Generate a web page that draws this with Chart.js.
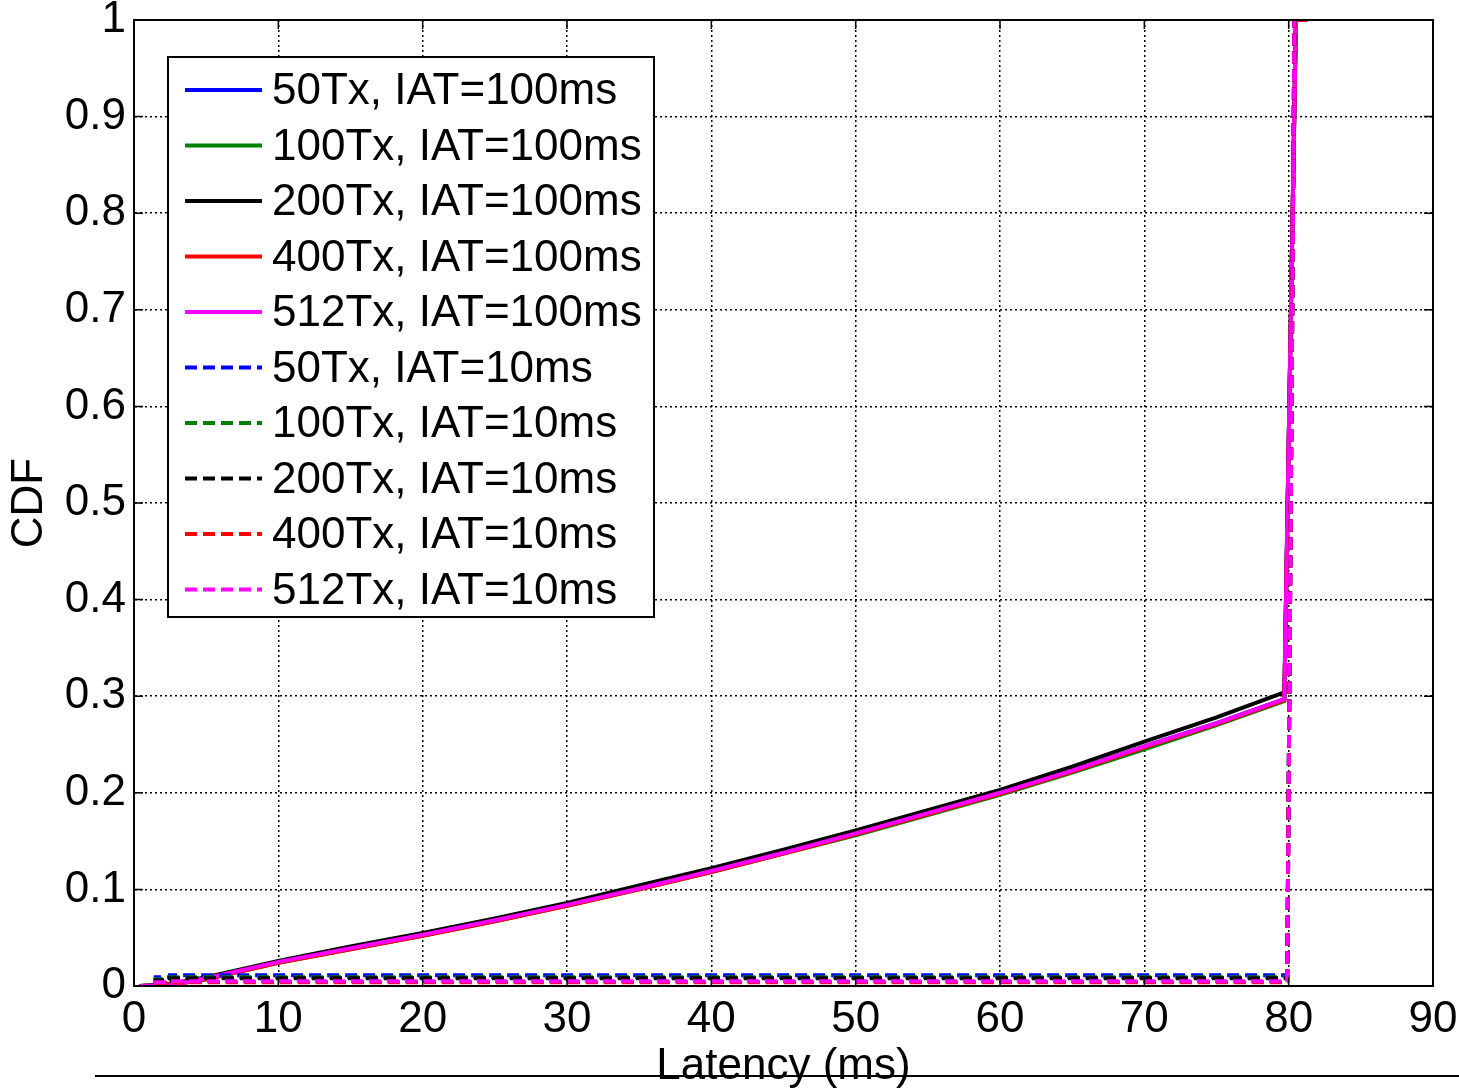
<!DOCTYPE html>
<html>
<head>
<meta charset="utf-8">
<script src="https://cdn.jsdelivr.net/npm/chart.js@4"></script>
<style>
  html, body { margin: 0; padding: 0; background: #fff; }
  #wrap { width: 1459px; height: 1089px; }
</style>
</head>
<body>
<div id="wrap"><canvas id="cdf" width="1459" height="1089"></canvas></div>
<script>
// latency (ms) sample points
const latSolid = [0.4, 2.5, 5, 10, 15, 20, 25, 30, 35, 40, 45, 50, 55, 60, 65, 70, 75, 79.7, 80.5];
const latSolidRed = [0.4, 2.5, 5, 10, 15, 20, 25, 30, 35, 40, 45, 50, 55, 60, 65, 70, 75, 79.7, 80.5, 81.3];
const latDashed = [0.4, 1.5, 1.5, 2.5, 2.5, 79.9, 80.4];

// IAT = 100ms
const cdf50_100  = [0, 0.001, 0.008, 0.025, 0.039, 0.053, 0.068, 0.084, 0.101, 0.119, 0.138, 0.158, 0.179, 0.200, 0.223, 0.248, 0.272, 0.297, 1];
const cdf100_100 = [0, 0.001, 0.007, 0.024, 0.038, 0.052, 0.067, 0.083, 0.100, 0.118, 0.137, 0.156, 0.177, 0.198, 0.221, 0.245, 0.270, 0.295, 1];
const cdf200_100 = [0, 0.002, 0.009, 0.026, 0.041, 0.055, 0.070, 0.086, 0.104, 0.122, 0.141, 0.161, 0.182, 0.203, 0.227, 0.253, 0.278, 0.304, 1];
const cdf400_100 = [0, 0.001, 0.007, 0.024, 0.038, 0.052, 0.067, 0.083, 0.100, 0.118, 0.137, 0.157, 0.178, 0.199, 0.222, 0.247, 0.271, 0.296, 1, 1];
const cdf512_100 = [0, 0.001, 0.008, 0.025, 0.039, 0.053, 0.068, 0.084, 0.101, 0.119, 0.138, 0.158, 0.179, 0.200, 0.223, 0.248, 0.272, 0.297, 1];

// IAT = 10ms
const cdf50_10  = [0, 0, 0.009, 0.009, 0.011, 0.011, 1];
const cdf100_10 = [0, 0, 0.007, 0.007, 0.009, 0.009, 1];
const cdf200_10 = [0, 0, 0.006, 0.006, 0.008, 0.008, 1];
const cdf400_10 = [0, 0, 0.003, 0.003, 0.004, 0.004, 1];
const cdf512_10 = [0, 0, 0.004, 0.004, 0.005, 0.005, 1];

const seriesNames = [
  '50Tx, IAT=100ms', '100Tx, IAT=100ms', '200Tx, IAT=100ms', '400Tx, IAT=100ms', '512Tx, IAT=100ms',
  '50Tx, IAT=10ms', '100Tx, IAT=10ms', '200Tx, IAT=10ms', '400Tx, IAT=10ms', '512Tx, IAT=10ms'
];
const seriesColors = ['#0000ff', '#008000', '#000000', '#ff0000', '#ff00ff'];

const xTicks = [0, 10, 20, 30, 40, 50, 60, 70, 80, 90];
const yTickLabels = ['0', '0.1', '0.2', '0.3', '0.4', '0.5', '0.6', '0.7', '0.8', '0.9', '1'];

const FONT = "'Liberation Sans', Arial, sans-serif";
const FSIZE = 44;

function pts(xs, ys) {
  return ys.map((y, i) => ({ x: xs[i], y: y }));
}

const solidData = [
  pts(latSolid, cdf50_100), pts(latSolid, cdf100_100), pts(latSolid, cdf200_100),
  pts(latSolidRed, cdf400_100), pts(latSolid, cdf512_100)
];
const dashedData = [cdf50_10, cdf100_10, cdf200_10, cdf400_10, cdf512_10].map(ys => pts(latDashed, ys));

const datasets = [];
solidData.concat(dashedData).forEach((d, i) => {
  datasets.push({
    label: seriesNames[i],
    data: d,
    borderColor: seriesColors[i % 5],
    backgroundColor: seriesColors[i % 5],
    borderWidth: 4,
    borderDash: i < 5 ? [] : [12, 6],
    pointRadius: 0,
    fill: false,
    tension: 0,
    order: 10 - i
  });
});

// frame on all four sides + inward tick marks, bottom rule
const framePlugin = {
  id: 'frame',
  afterDraw(chart) {
    const { ctx, chartArea: a, scales } = chart;
    ctx.save();
    ctx.strokeStyle = '#000';
    ctx.lineWidth = 2;
    ctx.setLineDash([]);
    ctx.strokeRect(a.left, a.top, a.right - a.left, a.bottom - a.top);
    ctx.lineWidth = 1.5;
    ctx.beginPath();
    xTicks.forEach(v => {
      const px = scales.x.getPixelForValue(v);
      ctx.moveTo(px, a.bottom); ctx.lineTo(px, a.bottom - 9);
      ctx.moveTo(px, a.top); ctx.lineTo(px, a.top + 9);
    });
    yTickLabels.forEach((t, i) => {
      const py = scales.y.getPixelForValue(i / 10);
      ctx.moveTo(a.left, py); ctx.lineTo(a.left + 9, py);
      ctx.moveTo(a.right, py); ctx.lineTo(a.right - 9, py);
    });
    ctx.stroke();
    // stray rule under the axis label
    ctx.lineWidth = 2;
    ctx.beginPath();
    ctx.moveTo(95, 1076);
    ctx.lineTo(1459, 1076);
    ctx.stroke();
    ctx.restore();
  }
};

// legend box inside the plot
const legendPlugin = {
  id: 'boxLegend',
  afterDatasetsDraw(chart) {
    const ctx = chart.ctx;
    const left = 168, top = 57, w = 486, h = 560;
    const rowH = 55.5, firstRow = 90;
    ctx.save();
    ctx.fillStyle = '#fff';
    ctx.fillRect(left, top, w, h);
    ctx.strokeStyle = '#000';
    ctx.lineWidth = 2;
    ctx.setLineDash([]);
    ctx.strokeRect(left, top, w, h);
    ctx.font = FSIZE + 'px ' + FONT;
    ctx.textBaseline = 'middle';
    ctx.textAlign = 'left';
    chart.data.datasets.forEach((ds, i) => {
      const y = firstRow + i * rowH;
      ctx.strokeStyle = ds.borderColor;
      ctx.lineWidth = 4;
      ctx.setLineDash(ds.borderDash);
      ctx.beginPath();
      ctx.moveTo(185, y);
      ctx.lineTo(262, y);
      ctx.stroke();
      ctx.fillStyle = '#000';
      ctx.fillText(ds.label, 272, y + 2);
    });
    ctx.restore();
  }
};

new Chart(document.getElementById('cdf'), {
  type: 'line',
  data: { datasets: datasets },
  plugins: [framePlugin, legendPlugin],
  options: {
    responsive: false,
    animation: false,
    devicePixelRatio: 1,
    layout: { padding: { top: 20, right: 26, left: 0, bottom: 0 } },
    plugins: {
      legend: { display: false },
      tooltip: { enabled: false }
    },
    scales: {
      x: {
        type: 'linear',
        min: 0,
        max: 90,
        afterFit: s => { s.height = 103; s.paddingLeft = 0; s.paddingRight = 0; },
        afterBuildTicks: s => { s.ticks = xTicks.map(v => ({ value: v })); },
        ticks: {
          color: '#000',
          padding: 7,
          maxRotation: 0,
          font: { family: FONT, size: FSIZE },
          callback: v => String(v)
        },
        grid: { color: '#000', lineWidth: 1.5, drawTicks: false },
        border: { display: true, color: '#000', width: 2, dash: [2, 3] },
        title: {
          display: true,
          text: 'Latency (ms)',
          color: '#000',
          font: { family: FONT, size: FSIZE, lineHeight: 1 },
          padding: { top: 0, bottom: 0 }
        }
      },
      y: {
        type: 'linear',
        min: 0,
        max: 1,
        afterFit: s => { s.width = 134; s.paddingTop = 0; s.paddingBottom = 0; },
        afterBuildTicks: s => { s.ticks = yTickLabels.map((t, i) => ({ value: i / 10 })); },
        ticks: {
          color: '#000',
          padding: 8,
          font: { family: FONT, size: FSIZE },
          callback: (v, i) => yTickLabels[i]
        },
        grid: { color: '#000', lineWidth: 1.5, drawTicks: false },
        border: { display: true, color: '#000', width: 2, dash: [2, 3] },
        title: {
          display: true,
          text: 'CDF',
          color: '#000',
          font: { family: FONT, size: FSIZE, lineHeight: 1 },
          padding: { top: 8, bottom: 0 }
        }
      }
    }
  }
});
</script>
</body>
</html>
